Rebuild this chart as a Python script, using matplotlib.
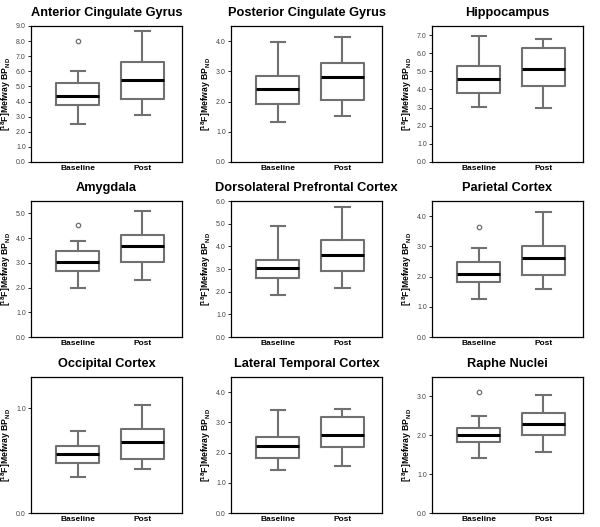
import matplotlib
matplotlib.use("Agg")
import matplotlib.pyplot as plt

plt.rcParams['font.family'] = ['Liberation Sans', 'DejaVu Sans']
plt.rcParams['mathtext.fontset'] = 'custom'
plt.rcParams['mathtext.rm'] = 'Liberation Sans'
plt.rcParams['mathtext.bf'] = 'Liberation Sans:bold'

titles = ["Anterior Cingulate Gyrus", "Posterior Cingulate Gyrus", "Hippocampus",
          "Amygdala", "Dorsolateral Prefrontal Cortex", "Parietal Cortex",
          "Occipital Cortex", "Lateral Temporal Cortex", "Raphe Nuclei"]
groups = ["Baseline", "Post"]

# [whisker low, Q1, median, Q3, whisker high] for Baseline / Post
baseline = [
    [2.51, 3.74, 4.36, 5.24, 5.99],
    [1.34, 1.91, 2.41, 2.85, 3.98],
    [3.06, 3.81, 4.58, 5.30, 6.96],
    [2.00, 2.65, 3.02, 3.48, 3.90],
    [1.84, 2.60, 3.06, 3.40, 4.88],
    [1.27, 1.81, 2.10, 2.47, 2.95],
    [0.34, 0.48, 0.56, 0.64, 0.78],
    [1.41, 1.83, 2.21, 2.51, 3.41],
    [1.41, 1.84, 2.01, 2.19, 2.50],
]
post = [
    [3.10, 4.14, 5.42, 6.65, 8.66],
    [1.51, 2.06, 2.80, 3.29, 4.13],
    [3.00, 4.21, 5.15, 6.30, 6.76],
    [2.31, 3.04, 3.68, 4.13, 5.11],
    [2.18, 2.91, 3.62, 4.29, 5.73],
    [1.58, 2.05, 2.60, 3.00, 4.13],
    [0.42, 0.52, 0.68, 0.80, 1.03],
    [1.56, 2.19, 2.59, 3.19, 3.44],
    [1.58, 2.01, 2.29, 2.57, 3.04],
]
baseline_outliers = [[8.04], [], [], [4.53], [], [3.64], [], [], [3.12]]
post_outliers = [[], [], [], [], [], [], [], [], []]

y_max = [9.0, 4.5, 7.5, 5.5, 6.0, 4.5, 1.3, 4.5, 3.5]
y_step = [1.0, 1.0, 1.0, 1.0, 1.0, 1.0, 1.0, 1.0, 1.0]

W, H = 600, 527
fig = plt.figure(figsize=(6.0, 5.27), dpi=100)

col_left = [31, 231, 432]
row_top = [26, 201, 377]
ax_w, ax_h = 151, 136

grey = "#707070"

for i in range(9):
    r, c = divmod(i, 3)
    left = col_left[c] / W
    bottom = 1 - (row_top[r] + ax_h) / H
    ax = fig.add_axes([left, bottom, ax_w / W, ax_h / H])
    stats = []
    for vals, fl, lab in [(baseline[i], baseline_outliers[i], groups[0]),
                          (post[i], post_outliers[i], groups[1])]:
        stats.append(dict(whislo=vals[0], q1=vals[1], med=vals[2], q3=vals[3],
                          whishi=vals[4], fliers=fl, label=lab))
    ax.bxp(stats, positions=[1, 2], widths=0.67,
           boxprops=dict(color=grey, linewidth=1.5),
           whiskerprops=dict(color=grey, linewidth=1.5),
           capprops=dict(color=grey, linewidth=1.5),
           medianprops=dict(color="black", linewidth=2.2),
           flierprops=dict(marker="o", markersize=3.2, markerfacecolor="none",
                           markeredgecolor=grey, markeredgewidth=0.9),
           capwidths=0.23)
    ax.set_xlim(0.27, 2.62)
    ax.set_ylim(0, y_max[i])
    ticks = []
    t = 0.0
    while t <= y_max[i] + 1e-9:
        ticks.append(t)
        t += y_step[i]
    ax.set_yticks(ticks)
    ax.set_yticklabels([f"{v:.1f}" for v in ticks], fontsize=5, color="#444444")
    ax.set_xticks([1, 2])
    ax.set_xticklabels(groups, fontsize=6, fontweight="bold")
    ax.tick_params(axis="x", length=0, pad=2.5)
    ax.tick_params(axis="y", length=2.2, width=0.6, pad=1.5)
    for s in ax.spines.values():
        s.set_linewidth(0.9)
    ax.set_ylabel(r"[$\mathbf{^{18}}$F]Mefway BP$\mathbf{_{ND}}$", fontsize=6.2,
                  fontweight="bold", labelpad=2)
    ax.set_title(titles[i], fontsize=9.2, fontweight="bold", pad=7)

fig.savefig("out.png", dpi=100)
